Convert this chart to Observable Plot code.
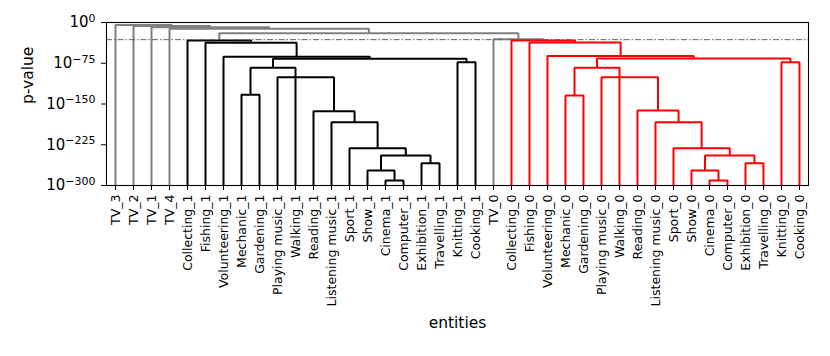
<!DOCTYPE html>
<html>
<head>
<meta charset="utf-8">
<script src="https://cdn.jsdelivr.net/npm/d3@7"></script>
<script src="https://cdn.jsdelivr.net/npm/@observablehq/plot@0.6"></script>
<style>
  body { margin: 0; background: white; }
  #chart svg { display: block; }
</style>
</head>
<body>
<div id="chart"></div>
<script>
// ---- data ----
const activities = ["Collecting","Fishing","Volunteering","Mechanic","Gardening","Playing music","Walking","Reading","Listening music","Sport","Show","Cinema","Computer","Exhibition","Travelling","Knitting","Cooking"];
const leaves = ["TV_3","TV_2","TV_1","TV_4", ...activities.map(a => a + "_1"), "TV_0", ...activities.map(a => a + "_0")];

// merge structure shared by both groups: [id, left child, right child]
const structure = [
  ["CC","Cinema","Computer"],
  ["SC","Show","CC"],
  ["ET","Exhibition","Travelling"],
  ["SE","SC","ET"],
  ["SP","Sport","SE"],
  ["LM","Listening music","SP"],
  ["RD","Reading","LM"],
  ["PM","Playing music","RD"],
  ["MG","Mechanic","Gardening"],
  ["MW","MG","Walking"],
  ["KC","Knitting","Cooking"],
  ["MK","MW","KC"],
  ["VO","Volunteering","MK"],
  ["FI","Fishing","VO"],
  ["CO","Collecting","FI"]
];
// log10(p-value) of each merge
const heights1 = [-290.8,-272.4,-259,-244.8,-231.3,-183.5,-163.2,-100.7,-133,-83.4,-73,-66.6,-63.1,-37.4,-33.1];
const heights0 = [-290.8,-272.4,-259,-244.8,-231.3,-183.5,-162,-100.7,-134.4,-83.4,-73,-66.4,-61.8,-37,-33.1];

const topStructure = [
  ["J","TV_0","CO_0"],
  ["K","CO_1","J"],
  ["L","TV_4","K"],
  ["M","TV_1","L"],
  ["N","TV_2","M"],
  ["O","TV_3","N"]
];
const topHeights = [-30.8,-19.9,-11.6,-8.6,-6.4,-4.6];

const threshold = -31.6;
const yTicks = [0,-75,-150,-225,-300];

// ---- build links ----
const node = {};
leaves.forEach((name, i) => node[name] = {x: 5 + 10 * i, h: d3.min(yTicks)});
const rows = [];
function addLinks(struct, hs, suffix, group) {
  struct.forEach(([id, l, r], k) => {
    const L = node[l + suffix], R = node[r + suffix], h = hs[k];
    node[id + suffix] = {x: (L.x + R.x) / 2, h};
    [[L.x, L.h], [L.x, h], [R.x, h], [R.x, R.h]].forEach(([x, y]) => rows.push({id: id + suffix, x, y, group}));
  });
}
addLinks(structure, heights1, "_1", "one");
addLinks(structure, heights0, "_0", "zero");
addLinks(topStructure, topHeights, "", "top");

const lineStyle = {x: "x", y: "y", z: "id", strokeWidth: 2, strokeLinejoin: "miter", strokeLinecap: "butt"};
const sup = d => d === 0 ? "10^0" : "10^" + "\u2212" + Math.abs(d);

const chart = Plot.plot({
  width: 830,
  height: 356,
  marginLeft: 106,
  marginRight: 22,
  marginTop: 22,
  marginBottom: 171,
  style: {fontFamily: "DejaVu Sans", background: "white", color: "black"},
  x: {domain: [0, 10 * leaves.length]},
  y: {domain: [d3.min(yTicks), d3.max(yTicks)]},
  marks: [
    Plot.line(rows.filter(d => d.group === "top"), {...lineStyle, stroke: "#808080"}),
    Plot.line(rows.filter(d => d.group === "one"), {...lineStyle, stroke: "black"}),
    Plot.line(rows.filter(d => d.group === "zero"), {...lineStyle, stroke: "red"}),
    Plot.ruleY([threshold], {stroke: "#606060", strokeWidth: 1, strokeDasharray: "6,2,1.5,2"}),
    Plot.frame({stroke: "black", strokeWidth: 1.1}),
    Plot.axisY({ticks: yTicks, tickFormat: sup, tickSize: 5, tickPadding: 6, fontSize: 15, label: null}),
    Plot.axisX({ticks: leaves.map((_, i) => 5 + 10 * i), tickFormat: d => leaves[(d - 5) / 10], tickRotate: -90, tickSize: 5, tickPadding: 4, fontSize: 12.5, label: null}),
    Plot.text(["entities"], {frameAnchor: "bottom", dy: 142, fontSize: 15.5}),
    Plot.text(["p-value"], {frameAnchor: "left", dx: -78, rotate: -90, fontSize: 15.5})
  ]
});
document.getElementById("chart").appendChild(chart);

// superscript exponents on y tick labels
const ns = "http://www.w3.org/2000/svg";
chart.querySelectorAll('[aria-label="y-axis tick label"] text').forEach(t => {
  const [base, exp] = t.textContent.split("^");
  t.textContent = "";
  const a = document.createElementNS(ns, "tspan");
  a.textContent = base;
  const b = document.createElementNS(ns, "tspan");
  b.textContent = exp;
  b.setAttribute("font-size", "11");
  b.setAttribute("dy", "-0.5em");
  t.appendChild(a);
  t.appendChild(b);
});
</script>
</body>
</html>
